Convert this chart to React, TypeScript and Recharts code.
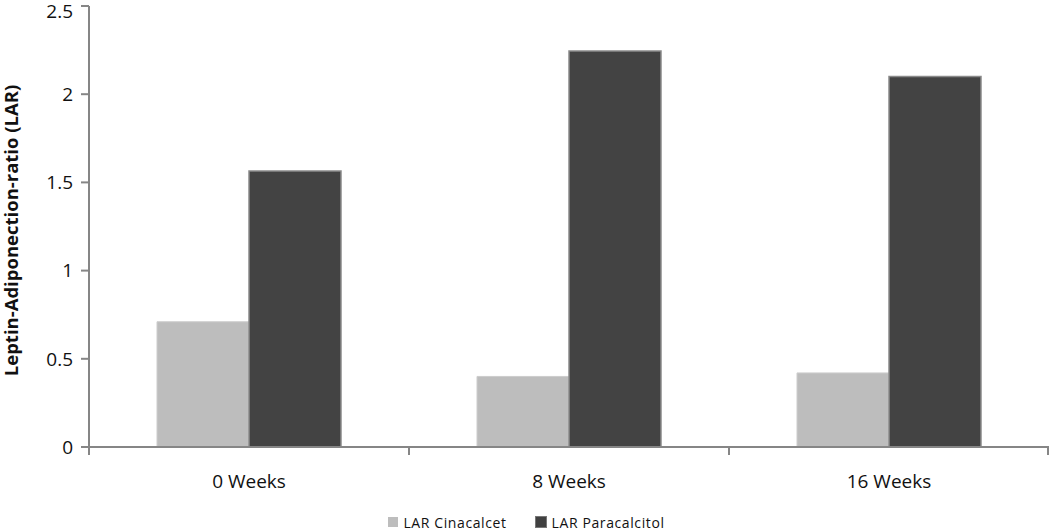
import React from "react";
import { BarChart, Bar, XAxis, YAxis, Legend } from "recharts";

const categories = ["0 Weeks", "8 Weeks", "16 Weeks"];
const cinacalcet = [0.71, 0.4, 0.42];
const paracalcitol = [1.565, 2.245, 2.1];
const yTicks = [0, 0.5, 1, 1.5, 2, 2.5];

const data = categories.map((name, i) => ({
  name,
  cin: cinacalcet[i],
  par: paracalcitol[i],
}));

const AXIS = "#868686";
const FONT = "'Open Sans', sans-serif";

// category label at the band centre, tick marks on the band edges
const CategoryTick = (props: any) => {
  const { x, y, payload, index, width, visibleTicksCount } = props;
  const half = width / visibleTicksCount / 2;
  const axisY = y - 8;
  const last = index === visibleTicksCount - 1;
  return (
    <g>
      <line x1={x - half} x2={x - half} y1={axisY} y2={axisY + 8} stroke={AXIS} strokeWidth={2} />
      {last && (
        <line x1={x + half - 1} x2={x + half - 1} y1={axisY} y2={axisY + 8} stroke={AXIS} strokeWidth={2} />
      )}
      <text
        x={x}
        y={y + 26}
        textAnchor="middle"
        dominantBaseline="central"
        fontSize={19}
        fontFamily={FONT}
        fill="#111"
      >
        {payload.value}
      </text>
    </g>
  );
};

const LegendContent = () => (
  <div
    style={{
      height: 18,
      display: "flex",
      justifyContent: "center",
      alignItems: "center",
      fontFamily: FONT,
      fontSize: 14,
      letterSpacing: 0.6,
      color: "#111",
      paddingLeft: 4,
    }}
  >
    <span style={{ display: "flex", alignItems: "center", marginRight: 28 }}>
      <span style={{ width: 10, height: 10, background: "#bdbdbd", marginRight: 5 }} />
      LAR Cinacalcet
    </span>
    <span style={{ display: "flex", alignItems: "center" }}>
      <span style={{ width: 10, height: 10, background: "#404040", border: "1px solid #777", marginRight: 5 }} />
      LAR Paracalcitol
    </span>
  </div>
);

export default function App() {
  return (
    <div style={{ position: "absolute", left: 0, top: 0, background: "#fff" }}>
      <BarChart
        width={1050}
        height={531}
        data={data}
        margin={{ top: 6, right: 1, left: 0, bottom: 0 }}
        barCategoryGap="21.25%"
        barGap={0}
      >
        <XAxis
          dataKey="name"
          height={66}
          axisLine={{ stroke: AXIS, strokeWidth: 2 }}
          tickLine={false}
          tickSize={6}
          tickMargin={2}
          tick={<CategoryTick />}
          interval={0}
        />
        <YAxis
          width={89}
          domain={[0, 2.5]}
          ticks={yTicks}
          axisLine={{ stroke: AXIS, strokeWidth: 2 }}
          tickLine={{ stroke: AXIS, strokeWidth: 2 }}
          tickSize={8}
          tickMargin={8}
          tick={{ fontSize: 19, fontFamily: FONT, fill: "#111" }}
          label={{
            value: "Leptin-Adiponection-ratio (LAR)",
            angle: -90,
            position: "insideLeft",
            offset: 0,
            dx: 11,
            dy: 4,
            style: {
              textAnchor: "middle",
              fontSize: 18.5,
              fontWeight: "bold",
              fontFamily: FONT,
              fill: "#111",
            },
          }}
        />
        <Legend verticalAlign="bottom" height={18} content={<LegendContent />} />
        <Bar
          dataKey="cin"
          name="LAR Cinacalcet"
          fill="#bdbdbd"
          stroke="#cdcdcd"
          strokeWidth={1}
          isAnimationActive={false}
        />
        <Bar
          dataKey="par"
          name="LAR Paracalcitol"
          fill="#434343"
          stroke="#8a8a8a"
          strokeWidth={1.5}
          isAnimationActive={false}
        />
      </BarChart>
    </div>
  );
}
